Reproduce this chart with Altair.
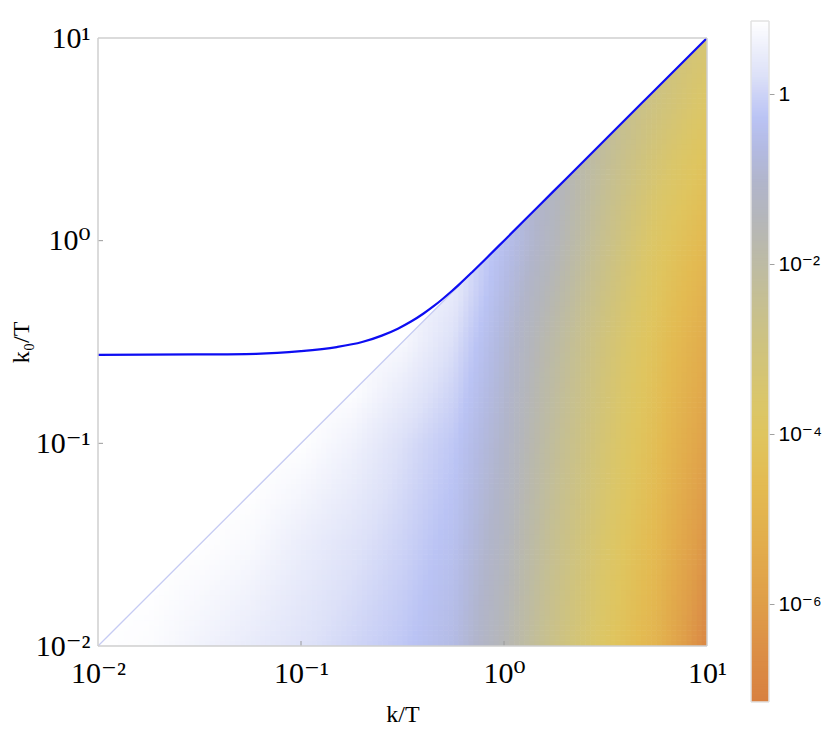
import numpy as np
import pandas as pd
import altair as alt

# ---------------- axis ticks ----------------
TICK_VALUES = [0.01, 0.1, 1.0, 10.0]
TICK_LABELS = ["10⁻²", "10⁻¹", "10⁰", "10¹"]
CBAR_TICK_VALUES = [1e-6, 1e-4, 1e-2, 1.0]
CBAR_TICK_LABELS = ["10⁻⁶", "10⁻⁴", "10⁻²", "1"]

# ---------------- plasmon branch (blue curve) ----------------
CURVE_K = [0.01, 0.03, 0.06, 0.1, 0.15, 0.2, 0.25, 0.3, 0.35, 0.4, 0.45, 0.5,
           0.55, 0.6, 0.7, 0.8, 1.0, 1.5, 2.0, 3.0, 5.0, 10.0]
CURVE_K0 = [0.2735, 0.2745, 0.2765, 0.285, 0.2985, 0.316, 0.340, 0.368, 0.400, 0.436,
            0.475, 0.517, 0.561, 0.607, 0.703, 0.801, 1.0, 1.5, 2.0, 3.0, 5.0, 10.0]

# ---------------- density readings: log10 of the plotted quantity ----------------
# columns: log10(k/T); rows: log10(k0/T); None where k0 >= k (outside the cut)
GRID_LOG_K = [-2.0, -1.75, -1.5, -1.25, -1.0, -0.75, -0.5, -0.25, 0.0, 0.25, 0.5, 0.75, 1.0]
GRID_LOG_K0 = [-2.0, -1.5, -1.0, -0.5, 0.0, 0.5]
N = None
LOG_AT_K0_0_01 = [N, 0.80, 0.62, 0.45, 0.27, 0.05, -0.20, -0.60, -1.55, -2.75, -3.85, -4.95, -6.85]
LOG_AT_K0_0_03 = [N, N, N, 0.75, 0.50, 0.28, 0.00, -0.40, -1.30, -2.50, -3.60, -4.70, -6.35]
LOG_AT_K0_0_1 = [N, N, N, N, N, 0.60, 0.20, -0.20, -1.05, -2.25, -3.35, -4.45, -5.85]
LOG_AT_K0_0_3 = [N, N, N, N, N, N, N, 0.20, -0.80, -1.95, -3.10, -4.20, -5.35]
LOG_AT_K0_1 = [N, N, N, N, N, N, N, N, N, -1.40, -2.60, -3.80, -4.70]
LOG_AT_K0_3 = [N, N, N, N, N, N, N, N, N, N, N, -3.15, -4.00]
LOG_ON_LIGHT_CONE = [0.85, 0.85, 0.85, 0.85, 0.85, 0.82, 0.72, 0.42, -0.40, -1.30, -2.20, -2.85, -3.30]

# ---------------- colour bar (log10 value -> colour) ----------------
CBAR_LOG_STOPS = [0.86, 0.54, 0.22, 0.0, -0.28, -0.64, -1.03, -1.42, -1.81, -2.0, -2.42,
                  -3.0, -3.6, -4.0, -4.58, -5.33, -6.0, -6.5, -7.15]
CBAR_COLORS = ["#ffffff", "#edeffb", "#dde1f8", "#cdd3f6", "#bac3f4", "#b3bae2", "#b1b5cb",
               "#b4b6bc", "#bab9ab", "#bdbba4", "#c5bf93", "#cfc37e", "#dac66a", "#dfc55f",
               "#e3bb52", "#e2ac4c", "#df9e49", "#dc9046", "#d88040"]

W, H = 609, 608
STEP = 0.025
CB_STEP = 0.03
SERIF = "Liberation Serif, DejaVu Serif, serif"
SANS = "Liberation Sans, DejaVu Sans, sans-serif"

# ---------- build the density cells from the readings ----------
rows = [LOG_AT_K0_0_01, LOG_AT_K0_0_03, LOG_AT_K0_0_1, LOG_AT_K0_0_3, LOG_AT_K0_1, LOG_AT_K0_3]
profiles = []
for ci, uc in enumerate(GRID_LOG_K):
    vs = [rv for rv, row in zip(GRID_LOG_K0, rows) if row[ci] is not None]
    ls = [row[ci] for row in rows if row[ci] is not None]
    vs.append(uc)
    ls.append(LOG_ON_LIGHT_CONE[ci])
    profiles.append((np.array(vs), np.array(ls)))

du = GRID_LOG_K[1] - GRID_LOG_K[0]


def log_field(u, v):
    i0 = min(int(np.floor((u - GRID_LOG_K[0]) / du)), len(GRID_LOG_K) - 2)
    t = (u - GRID_LOG_K[i0]) / du
    a = np.interp(v, *profiles[i0])
    b = np.interp(v, *profiles[i0 + 1])
    return (1 - t) * a + t * b


n = int(round((GRID_LOG_K[-1] - GRID_LOG_K[0]) / STEP))
recs = []
for i in range(n):
    ulo = GRID_LOG_K[0] + i * STEP
    uc = ulo + STEP / 2
    for j in range(n):
        vlo = GRID_LOG_K[0] + j * STEP
        if vlo > ulo + STEP:
            break
        vc = min(vlo + STEP / 2, uc)
        recs.append({"i": i, "j": j, "val": float(f"{10 ** log_field(uc, vc):.4g}")})
heat_df = pd.DataFrame(recs)

# colour-bar strip: samples of the colour scale's own domain
cb = []
lo = CBAR_LOG_STOPS[-1]
while lo < CBAR_LOG_STOPS[0] - 1e-9:
    hi = min(lo + CB_STEP, CBAR_LOG_STOPS[0])
    cb.append({"lo": 10 ** lo, "hi": 10 ** min(hi + 0.012, CBAR_LOG_STOPS[0]),
               "val": 10 ** ((lo + hi) / 2)})
    lo = hi
cbar_df = pd.DataFrame(cb)


def label_expr(values, labels):
    expr = "''"
    for v, lab in zip(values, labels):
        e = int(round(np.log10(v)))
        expr = f"round(log(datum.value)/LN10) == {e} ? '{lab}' : ({expr})"
    return expr


color_scale = alt.Scale(type="log", domain=[10 ** s for s in CBAR_LOG_STOPS[::-1]],
                        range=CBAR_COLORS[::-1], interpolate="rgb", clamp=True, nice=False)
xscale = alt.Scale(type="log", domain=[TICK_VALUES[0], TICK_VALUES[-1]], nice=False)
yscale = alt.Scale(type="log", domain=[TICK_VALUES[0], TICK_VALUES[-1]], nice=False)

x_axis = alt.Axis(values=TICK_VALUES, labelExpr=label_expr(TICK_VALUES, TICK_LABELS),
                  ticks=False, domain=False, grid=False, labelFont=SERIF, labelFontSize=30,
                  labelColor="black", labelPadding=12, labelFlush=False, labelOverlap=False,
                  title="k/T", titleFont=SERIF, titleFontSize=24, titleFontWeight="normal",
                  titleColor="black", titlePadding=14)
y_axis = alt.Axis(values=TICK_VALUES, labelExpr=label_expr(TICK_VALUES, TICK_LABELS),
                  ticks=False, domain=False, grid=False, labelFont=SERIF, labelFontSize=30,
                  labelColor="black", labelPadding=8, labelFlush=False, labelOverlap=False,
                  title="k₀/T", titleFont=SERIF, titleFontSize=24, titleFontWeight="normal",
                  titleColor="black", titlePadding=2)

heat = alt.Chart(heat_df).transform_calculate(
    x=f"pow(10, {GRID_LOG_K[0]} + datum.i * {STEP})",
    x2=f"pow(10, {GRID_LOG_K[0]} + (datum.i + 1) * {STEP} + 0.003)",
    y=f"pow(10, {GRID_LOG_K[0]} + datum.j * {STEP})",
    y2=f"pow(10, {GRID_LOG_K[0]} + (datum.j + 1) * {STEP} + 0.003)",
).mark_rect(clip=True).encode(
    x=alt.X("x:Q", scale=xscale, axis=x_axis),
    x2="x2:Q",
    y=alt.Y("y:Q", scale=yscale, axis=y_axis),
    y2="y2:Q",
    color=alt.Color("val:Q", scale=color_scale, legend=None),
)

mask_df = pd.DataFrame({"k": [TICK_VALUES[0], TICK_VALUES[-1]],
                        "lo": [TICK_VALUES[0], TICK_VALUES[-1]],
                        "hi": [TICK_VALUES[-1], TICK_VALUES[-1]]})
mask = alt.Chart(mask_df).mark_area(color="white", opacity=1).encode(
    x=alt.X("k:Q", scale=xscale, axis=x_axis),
    y=alt.Y("lo:Q", scale=yscale, axis=y_axis),
    y2="hi:Q",
)

diag = alt.Chart(mask_df).mark_line(color="#c6cbf3", strokeWidth=1.3).encode(
    x=alt.X("k:Q", scale=xscale, axis=x_axis),
    y=alt.Y("lo:Q", scale=yscale, axis=y_axis),
)

curve_df = pd.DataFrame({"k": CURVE_K, "k0": CURVE_K0})
curve = alt.Chart(curve_df).mark_line(color="#0d0df2", strokeWidth=2.2, interpolate="monotone",
                                      clip=True).encode(
    x=alt.X("k:Q", scale=xscale, axis=x_axis),
    y=alt.Y("k0:Q", scale=yscale, axis=y_axis),
)

tick_df = pd.DataFrame({"t": TICK_VALUES[1:-1]})
xticks = alt.Chart(tick_df).mark_rule(color="#9a9a9a", strokeWidth=1).encode(
    x=alt.X("t:Q", scale=xscale, axis=x_axis),
    y=alt.value(H), y2=alt.value(H - 5),
)
yticks = alt.Chart(tick_df).mark_rule(color="#9a9a9a", strokeWidth=1).encode(
    y=alt.Y("t:Q", scale=yscale, axis=y_axis),
    x=alt.value(0), x2=alt.value(5),
)
frame = alt.Chart(tick_df).mark_rect(filled=False, color="#cfcfcf", strokeWidth=1).encode(
    x=alt.value(0), x2=alt.value(W), y=alt.value(0), y2=alt.value(H),
)

inner = alt.layer(heat, mask, diag, curve, xticks, yticks, frame)

CB_X0, CB_X1, CB_TOP, CB_BOT = 653, 671, -17, 664
cbar_scale = alt.Scale(type="log", domain=[10 ** CBAR_LOG_STOPS[-1], 10 ** CBAR_LOG_STOPS[0]],
                       range=[CB_BOT, CB_TOP], nice=False)
cbar = alt.Chart(cbar_df).mark_rect().encode(
    x=alt.value(CB_X0), x2=alt.value(CB_X1),
    y=alt.Y("lo:Q", scale=cbar_scale,
            axis=alt.Axis(orient="right", offset=CB_X1 - W, values=CBAR_TICK_VALUES,
                          labelExpr=label_expr(CBAR_TICK_VALUES, CBAR_TICK_LABELS),
                          domain=False, grid=False, ticks=True, tickColor="#a0a0a0", tickSize=5,
                          labelFont=SANS, labelFontSize=21, labelColor="black", labelPadding=4,
                          labelFlush=False, labelOverlap=False, title=None)),
    y2="hi:Q",
    color=alt.Color("val:Q", scale=color_scale, legend=None),
)
cbar_frame = alt.Chart(tick_df).mark_rect(filled=False, color="#e2e2e2", strokeWidth=1).encode(
    x=alt.value(CB_X0), x2=alt.value(CB_X1), y=alt.value(CB_TOP), y2=alt.value(CB_BOT),
)

chart = alt.layer(inner, cbar, cbar_frame).resolve_scale(y="independent").properties(
    width=W, height=H,
    padding={"left": 90, "top": 30, "right": 115, "bottom": 85},
    autosize=alt.AutoSizeParams(type="none"),
    background="white",
).configure_view(stroke=None)

chart.save("out.html", embed_options={"renderer": "svg", "actions": False})
